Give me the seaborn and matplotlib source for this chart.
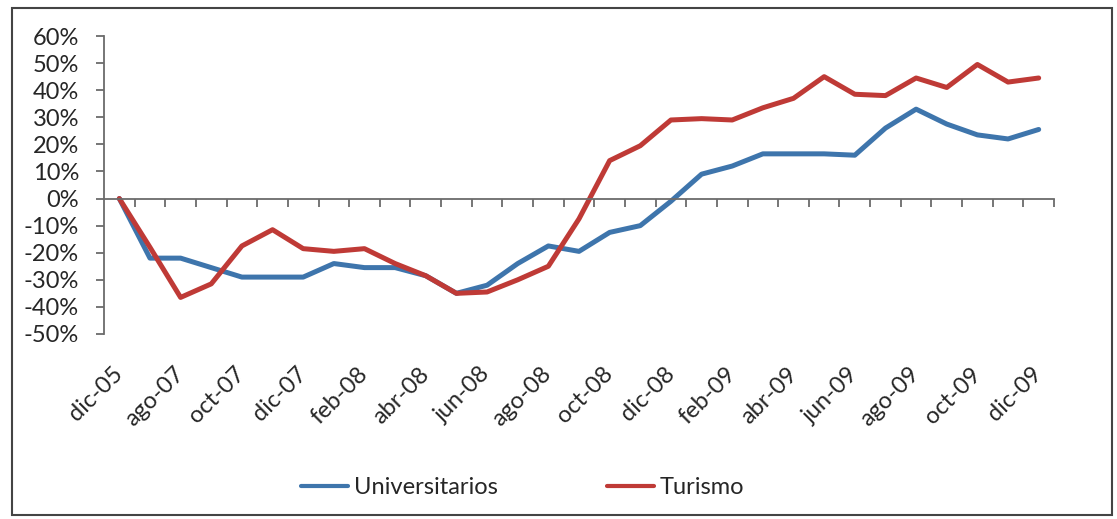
import pandas as pd
import seaborn as sns
import matplotlib.pyplot as plt
from matplotlib.ticker import FixedLocator, FuncFormatter, MultipleLocator
from matplotlib.patches import Rectangle

# monthly categories (only every other one gets a label)
months = ['dic-05', 'jul-07', 'ago-07', 'sep-07', 'oct-07', 'nov-07', 'dic-07',
          'ene-08', 'feb-08', 'mar-08', 'abr-08', 'may-08', 'jun-08', 'jul-08',
          'ago-08', 'sep-08', 'oct-08', 'nov-08', 'dic-08', 'ene-09', 'feb-09',
          'mar-09', 'abr-09', 'may-09', 'jun-09', 'jul-09', 'ago-09', 'sep-09',
          'oct-09', 'nov-09', 'dic-09']

universitarios = [0, -22, -22, -25.5, -29, -29, -29, -24, -25.5, -25.5, -28.5,
                  -35, -32, -24, -17.5, -19.5, -12.5, -10, -1, 9, 12, 16.5,
                  16.5, 16.5, 16, 26, 33, 27.5, 23.5, 22, 25.5]
turismo = [0, -18, -36.5, -31.5, -17.5, -11.5, -18.5, -19.5, -18.5, -24, -28.5,
           -35, -34.5, -30, -25, -7.5, 14, 19.5, 29, 29.5, 29, 33.5, 37, 45,
           38.5, 38, 44.5, 41, 49.5, 43, 44.5]

series_names = ['Universitarios', 'Turismo']
colors = ['#3E75AC', '#BF3A36']


def main():
    df = pd.DataFrame({'pos': range(len(months)), 'mes': months,
                       'Universitarios': universitarios, 'Turismo': turismo})
    long = df.melt(id_vars=['pos', 'mes'], value_vars=series_names,
                   var_name='serie', value_name='valor')

    sns.set_style('white')
    plt.rcParams['font.family'] = ['Lato', 'DejaVu Sans']

    fig = plt.figure(figsize=(11.17, 5.19), dpi=100)
    ax = fig.add_axes([0.0931, 0.3565, 0.8505, 0.5741])

    sns.lineplot(data=long, x='pos', y='valor', hue='serie',
                 hue_order=series_names, palette=colors, linewidth=3.6,
                 sort=False, ax=ax)

    ax.set_xlim(-0.5, len(months) - 0.5)
    ax.set_ylim(-50, 60)
    ax.set_xlabel('')
    ax.set_ylabel('')

    axis_color = '#6b6b6b'
    for side in ['top', 'right']:
        ax.spines[side].set_visible(False)
    ax.spines['left'].set_color(axis_color)
    ax.spines['left'].set_linewidth(1.3)
    ax.spines['bottom'].set_color(axis_color)
    ax.spines['bottom'].set_linewidth(1.3)
    ax.spines['bottom'].set_position(('data', 0))

    # y axis
    ax.yaxis.set_major_locator(MultipleLocator(10))
    ax.yaxis.set_major_formatter(FuncFormatter(lambda v, p: f'{int(round(v))}%'))
    ax.tick_params(axis='y', direction='out', length=6, width=1.3,
                   color=axis_color, pad=12, labelsize=17, left=True)

    # x axis: tick marks between categories, labels every second month
    label_pos = list(range(0, len(months), 2))
    ax.xaxis.set_major_locator(FixedLocator(label_pos))
    ax.set_xticklabels([months[i] for i in label_pos])
    ax.xaxis.set_minor_locator(FixedLocator([k - 0.5 for k in range(1, len(months) + 1)]))
    ax.tick_params(axis='x', which='major', length=0, pad=124, labelsize=17)
    ax.tick_params(axis='x', which='minor', direction='out', length=6,
                   width=1.3, color=axis_color, bottom=True)
    for lbl in ax.get_xticklabels():
        lbl.set_rotation(45)
        lbl.set_rotation_mode('anchor')
        lbl.set_ha('right')
        lbl.set_va('center')

    # legend below the plot
    handles, labels = ax.get_legend_handles_labels()
    ax.get_legend().remove()
    leg = fig.legend(handles, labels, loc='center', ncol=2,
                     bbox_to_anchor=(0.468, 0.06), frameon=False, fontsize=17,
                     handlelength=2.0, handletextpad=0.25, columnspacing=4.6)
    for line in leg.get_lines():
        line.set_linewidth(3)

    # chart-area border
    fig.patches.append(Rectangle((0.0107, 0.0077), 0.9848, 0.977,
                                 transform=fig.transFigure, fill=False,
                                 edgecolor='#444444', linewidth=1.5))

    plt.savefig('out.png', dpi=100)
    plt.close()


if __name__ == "__main__":
    main()
